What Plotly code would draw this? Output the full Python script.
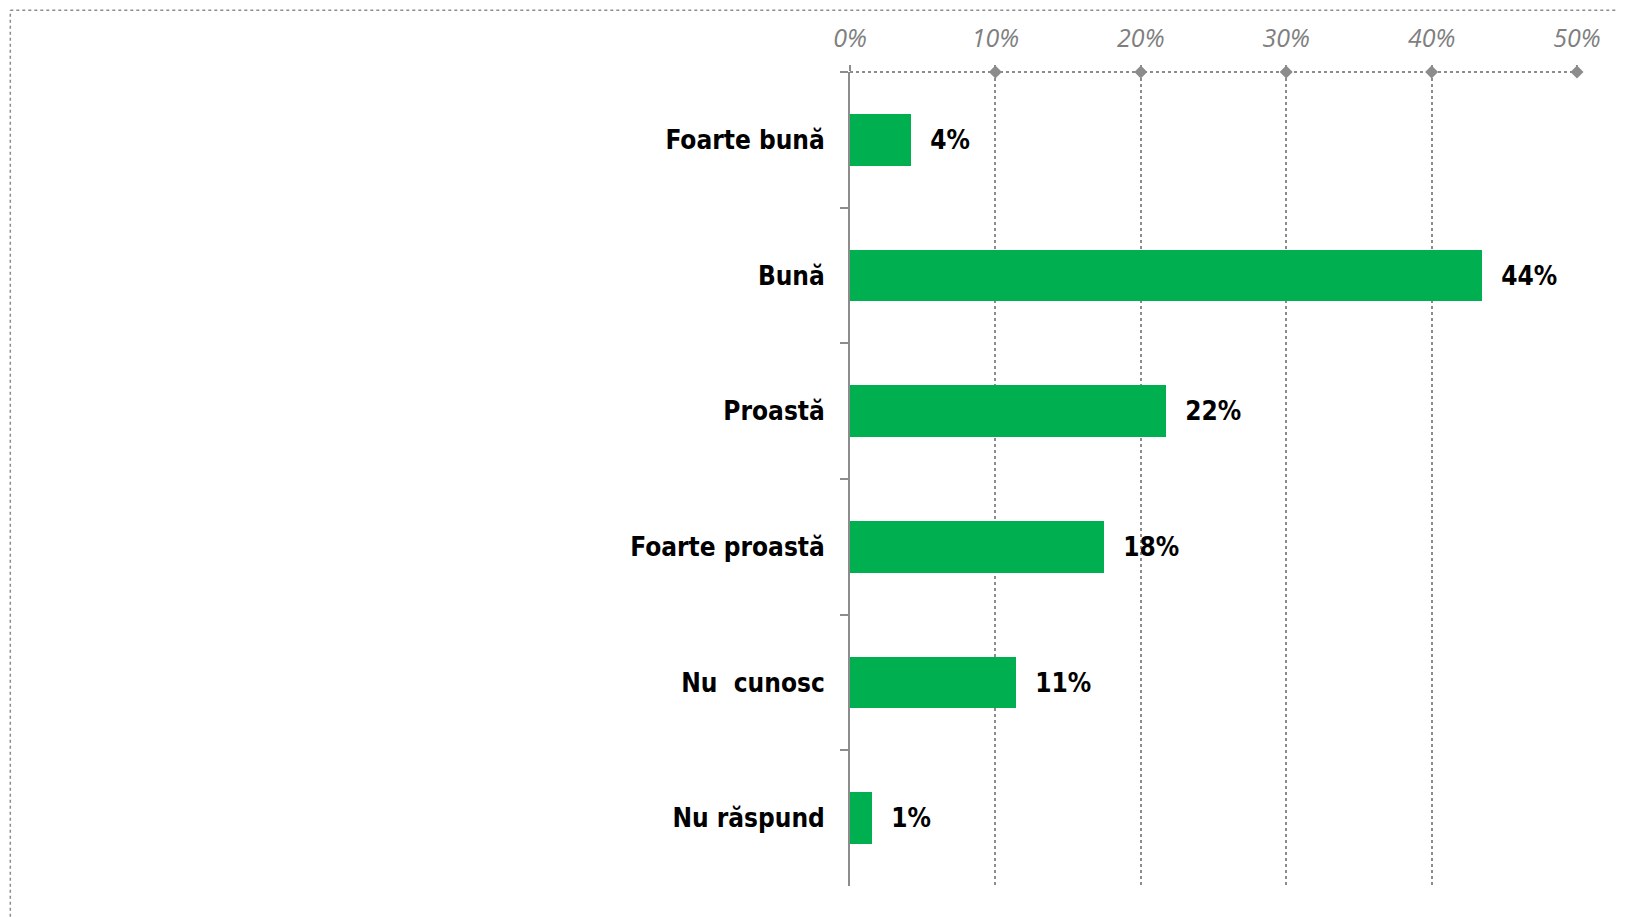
import plotly.graph_objects as go

categories = ["Foarte bună", "Bună", "Proastă", "Foarte proastă", "Nu\u00a0 cunosc", "Nu răspund"]
values = [4.2, 43.5, 21.7, 17.5, 11.4, 1.5]
value_labels = ["4%", "44%", "22%", "18%", "11%", "1%"]
tick_vals = [0, 10, 20, 30, 40, 50]
tick_text = ["0%", "10%", "20%", "30%", "40%", "50%"]

GREEN = "#00B050"
GRAY = "#8C8C8C"
LABEL_FONT = "DejaVu Sans Condensed, DejaVu Sans, sans-serif"

fig = go.Figure()
fig.add_trace(go.Bar(
    y=categories, x=values, orientation="h",
    marker=dict(color=GREEN, line=dict(width=0)),
    width=0.38,
    text=["\u00a0\u00a0" + t for t in value_labels],
    textposition="outside", cliponaxis=False,
    textfont=dict(family=LABEL_FONT, size=26, color="#000000", weight="bold"),
    hoverinfo="skip",
))
# diamond markers on the top axis at each tick
fig.add_trace(go.Scatter(
    x=tick_vals[1:], y=[1] * (len(tick_vals) - 1), yaxis="y2", mode="markers",
    marker=dict(symbol="diamond", size=10, color=GRAY), cliponaxis=False,
    hoverinfo="skip", showlegend=False,
))

fig.update_layout(
    width=1625, height=917,
    margin=dict(l=842, r=56, t=64, b=39),
    paper_bgcolor="white", plot_bgcolor="white",
    showlegend=False,
    bargap=0,
    xaxis=dict(
        range=[0, 50], side="top", tickvals=tick_vals, ticktext=tick_text,
        tickfont=dict(family="Liberation Sans Narrow, Open Sans, sans-serif", size=25, color="#7F7F7F", style="italic"),
        showgrid=True, gridcolor=GRAY, griddash="dot", gridwidth=2,
        ticks="outside", ticklen=6, tickcolor=GRAY, tickwidth=2,
        showline=False, zeroline=False, fixedrange=True,
        ticklabelstandoff=8,
    ),
    yaxis=dict(
        type="category", autorange="reversed",
        tickfont=dict(family=LABEL_FONT, size=26, color="#000000", weight="bold"),
        showline=True, linecolor=GRAY, linewidth=2,
        ticks="outside", tickson="boundaries", ticklen=8, tickcolor=GRAY, tickwidth=2,
        showgrid=False, zeroline=False, ticklabelstandoff=18,
    ),
    yaxis2=dict(overlaying="y", range=[0, 1], visible=False, fixedrange=True),
    shapes=[
        # dotted top axis line
        dict(type="line", xref="paper", yref="paper", x0=0, x1=1, y0=1, y1=1,
             line=dict(color=GRAY, width=2, dash="dot")),
        # outer dotted frame (top and left)
        dict(type="line", xref="paper", yref="paper", x0=-1.155, x1=1.08, y0=1.076, y1=1.076,
             line=dict(color="#8C8C8C", width=1.5, dash="dot")),
        dict(type="line", xref="paper", yref="paper", x0=-1.155, x1=-1.155, y0=-0.06, y1=1.076,
             line=dict(color="#8C8C8C", width=1.5, dash="dot")),
    ],
)

fig.write_html("out.html")
